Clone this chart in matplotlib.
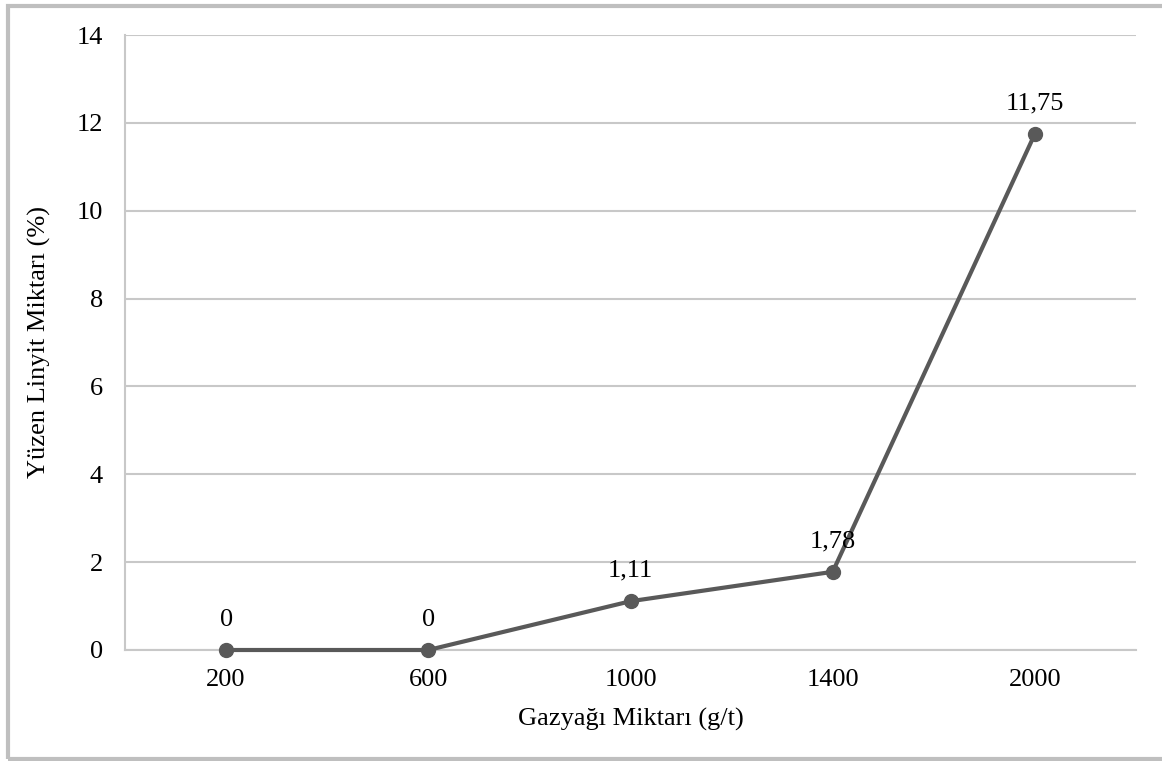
import matplotlib
matplotlib.use("Agg")
import matplotlib.pyplot as plt
from matplotlib.patches import Rectangle

plt.rcParams['font.family'] = ['Liberation Serif', 'DejaVu Serif']
plt.rcParams['font.size'] = 19

# kerosene dosage vs. floating lignite
dosage = ['200', '600', '1000', '1400', '2000']
floated = [0, 0, 1.11, 1.78, 11.75]
value_labels = ['0', '0', '1,11', '1,78', '11,75']

fig = plt.figure(figsize=(11.62, 7.61), dpi=100)
ax = fig.add_axes([125 / 1162, 1 - 650 / 761, 1011 / 1162, 615 / 761])

# outer frame around the chart area
fig.patches.append(Rectangle((8 / 1162, 2 / 761), 1.2, 753 / 761, transform=fig.transFigure,
                             fill=False, edgecolor='#bfbfbf', linewidth=3))

x = range(len(dosage))
ax.plot(x, floated, color='#595959', linewidth=3, marker='o', markersize=10,
        zorder=3, clip_on=False)
for xi, v, lab in zip(x, floated, value_labels):
    ax.annotate(lab, (xi, v), xytext=(0, 14), textcoords='offset points',
                ha='center', va='bottom')

ax.set_xlim(-0.5, 4.5)
ax.set_ylim(0, 14)
ax.set_yticks(range(0, 15, 2))
ax.set_xticks(list(x))
ax.set_xticklabels(dosage)
ax.yaxis.grid(True, color='#c8c8c8', linewidth=1.5)
ax.set_axisbelow(True)
ax.tick_params(length=0, pad=16)
ax.tick_params(axis='x', pad=14)

for s in ['top', 'right']:
    ax.spines[s].set_visible(False)
for s in ['left', 'bottom']:
    ax.spines[s].set_color('#c8c8c8')
    ax.spines[s].set_linewidth(1.5)

ax.set_xlabel('Gazyağı Miktarı (g/t)', labelpad=12)
ax.set_ylabel('Yüzen Linyit Miktarı (%)', labelpad=18)

fig.savefig('out.png', dpi=100)
